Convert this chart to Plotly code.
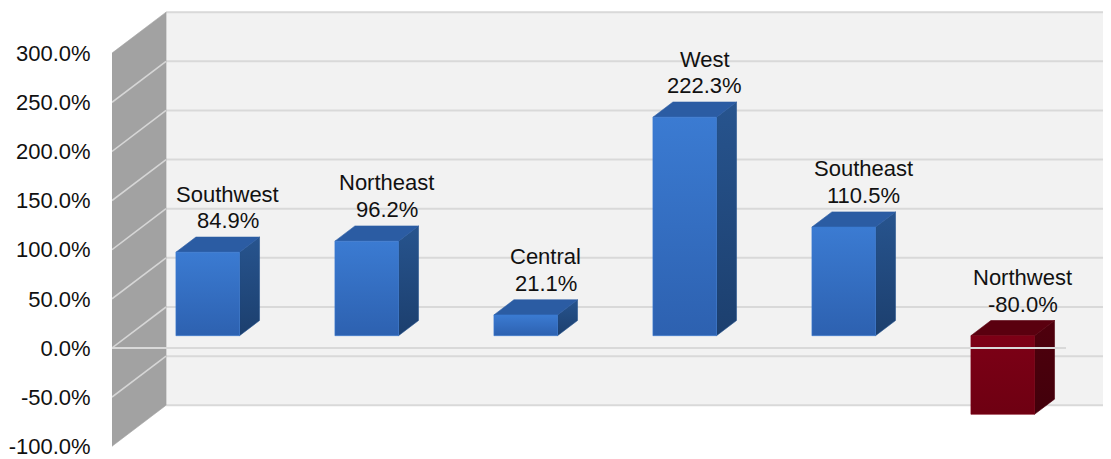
import plotly.graph_objects as go

# ---------------- data ----------------
categories = ["Southwest", "Northeast", "Central", "West", "Southeast", "Northwest"]
values = [84.9, 96.2, 21.1, 222.3, 110.5, -80.0]
tick_values = [-100, -50, 0, 50, 100, 150, 200, 250, 300]
tick_labels = ["-100.0%", "-50.0%", "0.0%", "50.0%", "100.0%",
               "150.0%", "200.0%", "250.0%", "300.0%"]

# ---------------- 3D geometry (axis units) ----------------
DX, DY = 0.34, 41.7        # full depth of the chart box (category units, % units)
BAR_W = 0.40               # bar width in category units
F0, F1 = 0.30, 0.67        # bar front / back depth fractions
Y_LO, Y_HI = min(tick_values), max(tick_values)
X_MAX = 1007 / 159

WALL_BACK = "#f2f2f2"
WALL_SIDE = "#a2a2a2"
GRID = "#d9d9d9"
GRID_SIDE = "#d6d6d6"
FONT = "Liberation Sans, Arial"

POS_COL = dict(front=("#2d61b0", "#3b7bd2"), top="#2b5ca3", side=("#1c3f6e", "#27548e"))
NEG_COL = dict(front=("#6e0012", "#7d0016"), top="#5a000f", side=("#42000b", "#4f000d"))

fig = go.Figure()


def poly(xs, ys, color=None, grad=None):
    kw = dict(x=list(xs) + [xs[0]], y=list(ys) + [ys[0]], mode="lines", fill="toself",
              hoverinfo="skip", showlegend=False)
    if grad is not None:
        kw["fillgradient"] = dict(type="vertical", colorscale=[[0, grad[0]], [1, grad[1]]])
        kw["line"] = dict(width=0.6, color=grad[1])
    else:
        kw["fillcolor"] = color
        kw["line"] = dict(width=0.6, color=color)
    fig.add_trace(go.Scatter(**kw))


def line(xs, ys, color, width):
    fig.add_trace(go.Scatter(x=xs, y=ys, mode="lines", line=dict(color=color, width=width),
                             hoverinfo="skip", showlegend=False))


n = len(categories)

# back wall
poly([DX, X_MAX + 1, X_MAX + 1, DX], [Y_LO + DY, Y_LO + DY, Y_HI + DY, Y_HI + DY], WALL_BACK)
for t in tick_values:
    line([DX, X_MAX + 1], [t + DY, t + DY], GRID, 2)

# side wall
poly([0, 0, DX, DX], [Y_LO, Y_HI, Y_HI + DY, Y_LO + DY], WALL_SIDE)
for t in tick_values[1:-1]:
    line([0, DX], [t, t + DY], GRID_SIDE, 1.6)

# bars
for i, v in enumerate(values):
    col = POS_COL if v >= 0 else NEG_COL
    c = i + 0.5
    x0 = c - BAR_W / 2 + F0 * DX
    x1 = c + BAR_W / 2 + F0 * DX
    bx0 = c - BAR_W / 2 + F1 * DX
    bx1 = c + BAR_W / 2 + F1 * DX
    lo, hi = min(v, 0), max(v, 0)
    yf_lo, yf_hi = lo + F0 * DY, hi + F0 * DY
    yb_lo, yb_hi = lo + F1 * DY, hi + F1 * DY
    # right face
    poly([x1, bx1, bx1, x1], [yf_lo, yb_lo, yb_hi, yf_hi], grad=col["side"])
    # top face
    poly([x0, x1, bx1, bx0], [yf_hi, yf_hi, yb_hi, yb_hi], col["top"])
    # front face
    poly([x0, x1, x1, x0], [yf_lo, yf_lo, yf_hi, yf_hi], grad=col["front"])

# floor front edge (0 line)
line([0, n], [0, 0], GRID, 2)

# labels (category name above the value)
for i, (cat, v) in enumerate(zip(categories, values)):
    ax = i + 0.5 + F1 * DX
    ay = max(v, 0) + F1 * DY
    fig.add_annotation(x=ax, y=ay, text=f"{v:.1f}%", showarrow=False,
                       xanchor="center", yanchor="middle", yshift=16.5,
                       font=dict(size=22, color="#111111", family=FONT))
    fig.add_annotation(x=ax, y=ay, text=cat, showarrow=False,
                       xanchor="center", yanchor="middle", yshift=16.5 + 26.5,
                       font=dict(size=22, color="#111111", family=FONT))

fig.update_layout(
    width=1111, height=459,
    margin=dict(l=104, r=0, t=0, b=0),
    paper_bgcolor="white", plot_bgcolor="white",
    showlegend=False,
    xaxis=dict(range=[0, X_MAX], visible=False, fixedrange=True),
    yaxis=dict(range=[-121.1, 345.9], tickvals=tick_values, ticktext=tick_labels,
               showgrid=False, zeroline=False, showline=False,
               ticks="outside", ticklen=16, tickcolor="rgba(0,0,0,0)",
               tickfont=dict(size=22, color="#111111", family=FONT),
               fixedrange=True),
)

fig.write_html("out.html")
